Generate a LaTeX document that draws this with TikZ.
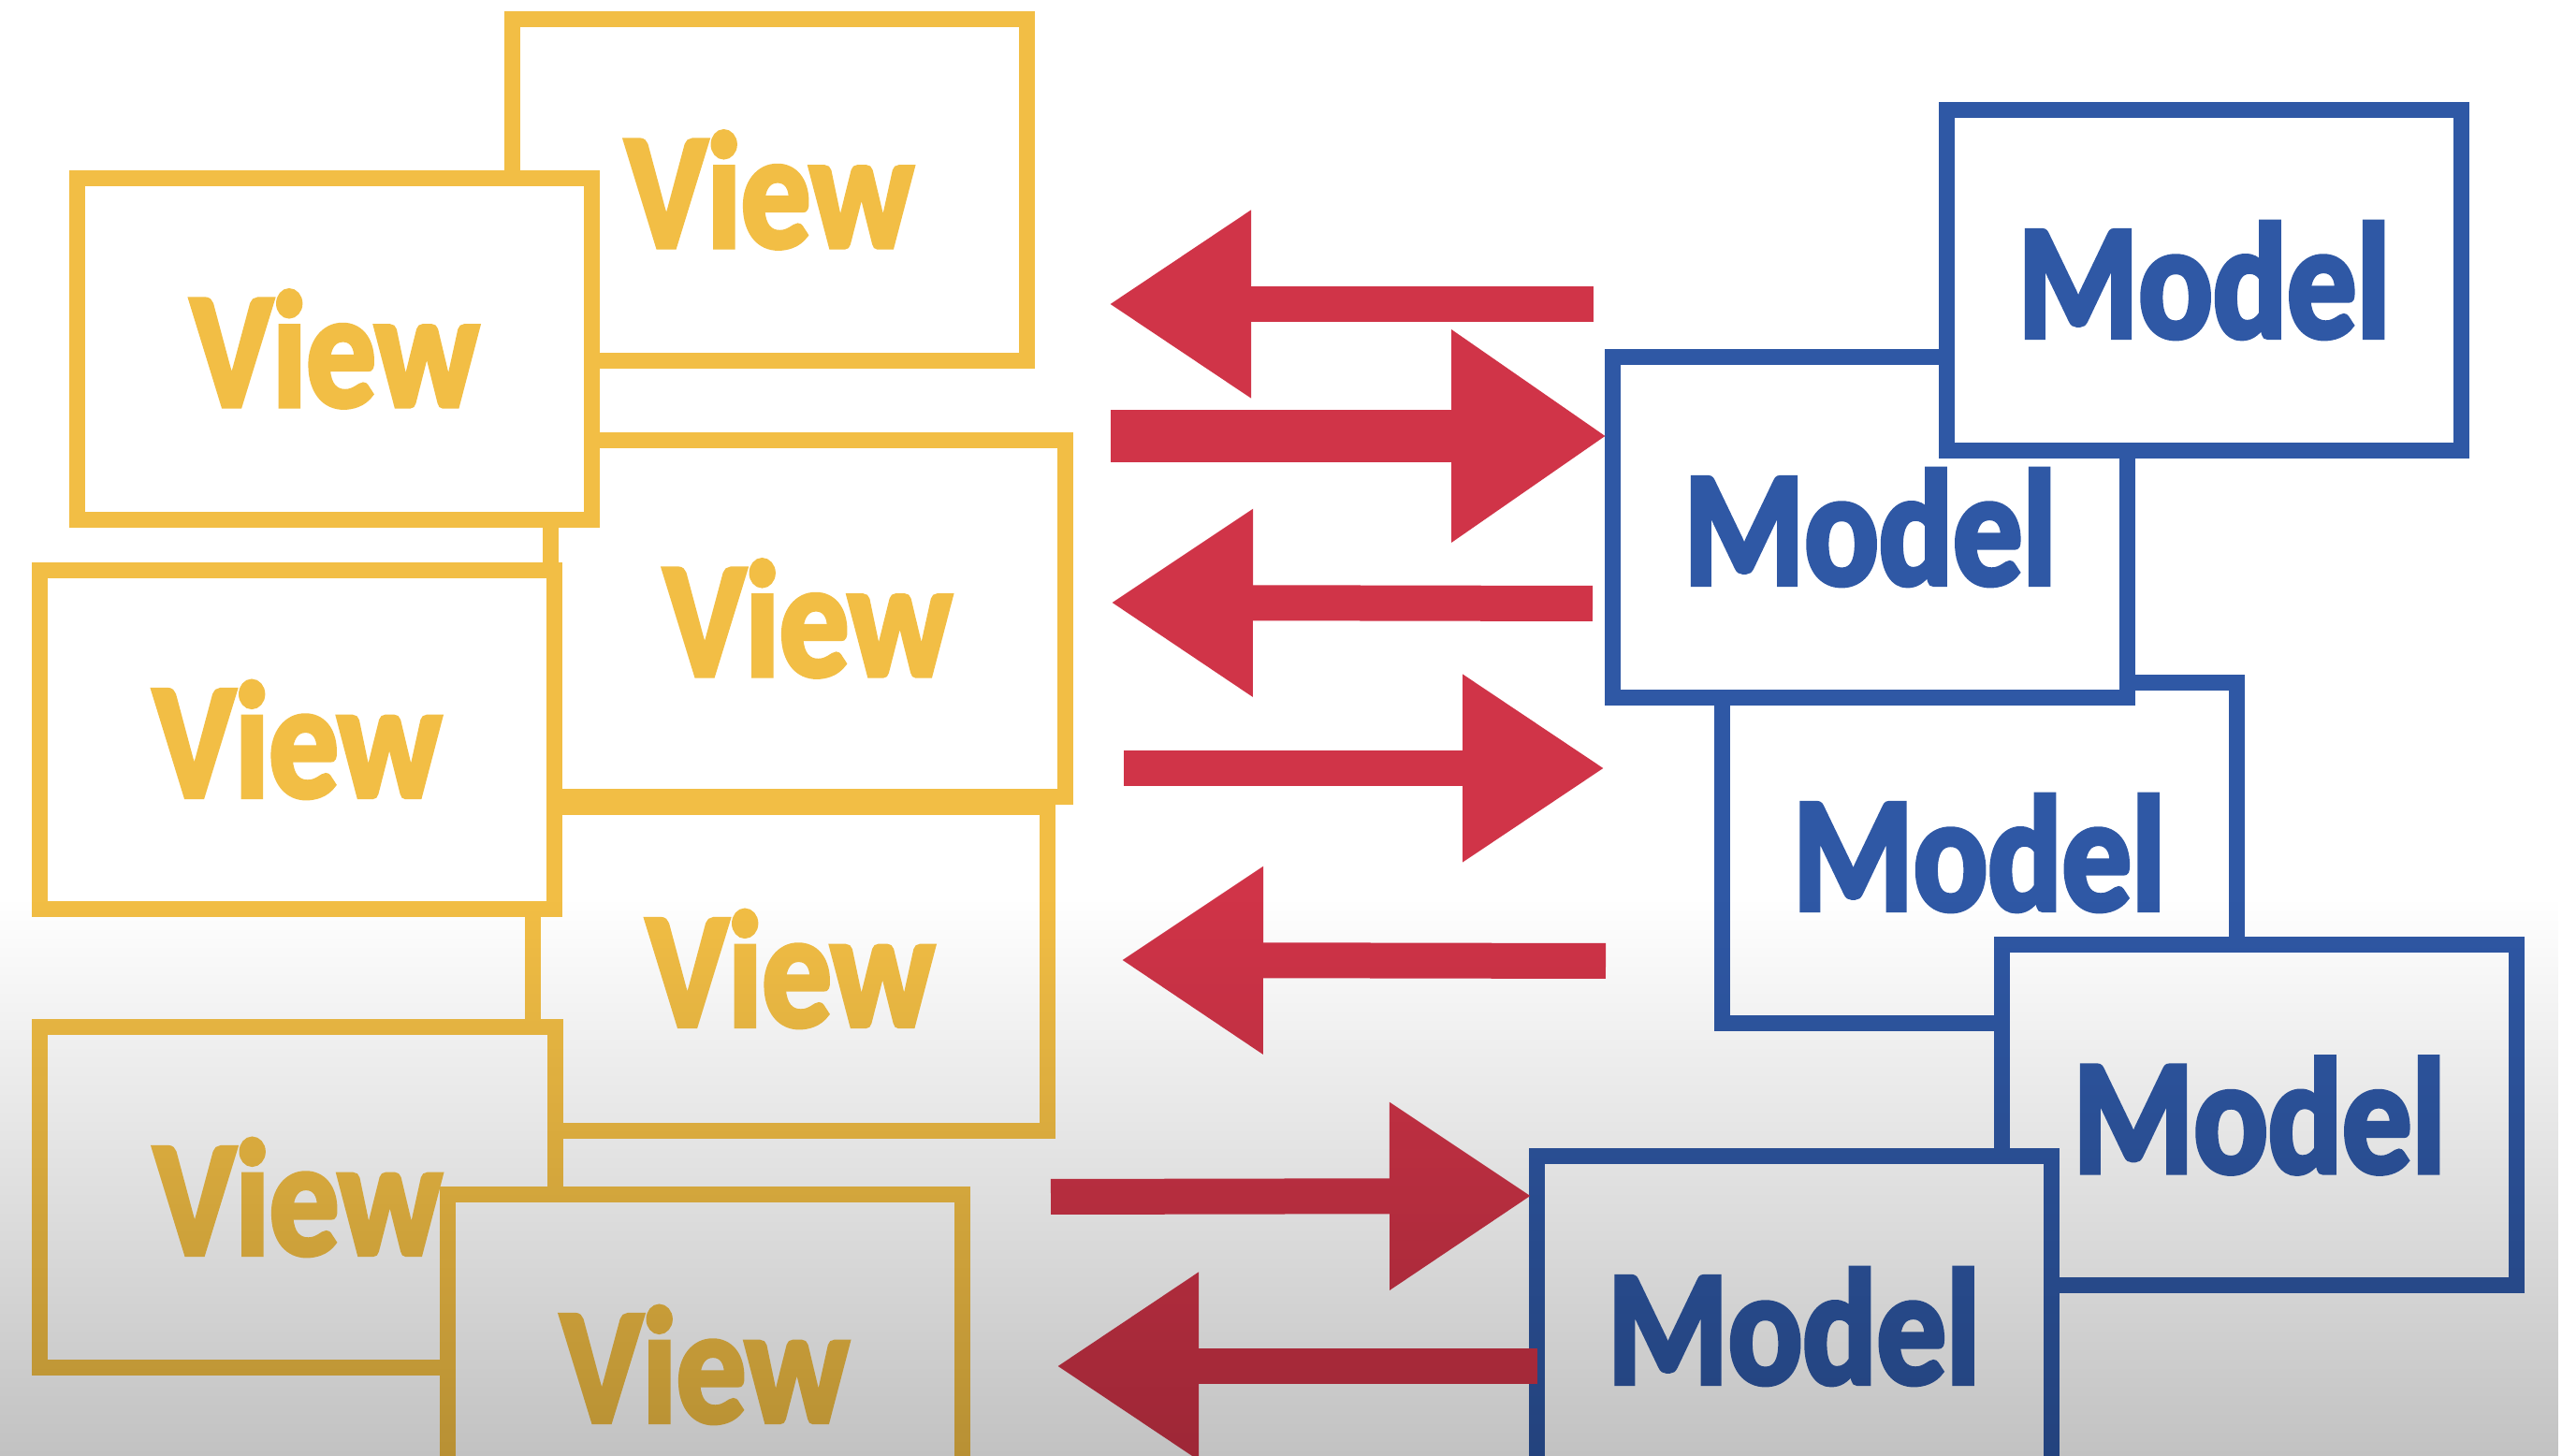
\documentclass[tikz,border=0pt]{standalone}
\usepackage{fontspec}
\usepackage{xcolor}
\usetikzlibrary{arrows.meta}
\usetikzlibrary{fadings}
\newfontfamily\mvcfont[FakeStretch=0.84, FakeBold=3]{Carlito}
\definecolor{viewyellow}{RGB}{242,190,69}
\definecolor{modelblue}{RGB}{47,88,165}
\definecolor{arrowred}{RGB}{208,52,72}
\tikzfading[name=fade down, top color=transparent!100, bottom color=transparent!76]

\begin{document}
\begin{tikzpicture}[
    viewbox/.style={draw=viewyellow, fill=white, line width=\figmvclinewidth,
        minimum width=\figmvcboxwidth, minimum height=\figmvcboxheight, inner sep=0pt,
        text=viewyellow, font=\mvcfont\bfseries\fontsize{50}{55}\selectfont},
    modelbox/.style={viewbox, draw=modelblue, text=modelblue},
    chalkarrow/.style={draw=arrowred, line width=\figmvcshaftwidth,
        -{Triangle[length=\figmvcheadlength, width=\figmvcheadwidth]}},
    bigchalkarrow/.style={draw=arrowred, line width=0.56cm,
        -{Triangle[length=1.66cm, width=2.16cm]}}
]
        \newcommand{\figmvcboxwidth}{5.5cm}
        \newcommand{\figmvcboxheight}{3.64cm}
        \newcommand{\figmvclinewidth}{0.17cm}
        \newcommand{\figmvcshaftwidth}{0.38cm}
        \newcommand{\figmvcheadlength}{1.52cm}
        \newcommand{\figmvcheadwidth}{1.9cm}
        \newcommand{\figmvcpagewidth}{27.38}
        \newcommand{\figmvcpageheight}{15.56}
        \useasboundingbox (0,0) rectangle (\figmvcpagewidth,\figmvcpageheight);
        \fill[white] (0,0) rectangle (\figmvcpagewidth,\figmvcpageheight);
        % views, back to front
        \node[viewbox, minimum height=3.65cm] (viewa) at (8.22,13.53) {View};
        \node[viewbox, minimum height=3.46cm] (viewe) at (8.445,5.205) {View};
        \node[viewbox, minimum height=3.81cm] (viewc) at (8.63,8.95) {View};
        \node[viewbox, minimum height=3.65cm] (viewb) at (3.575,11.83) {View};
        \node[viewbox, minimum height=3.62cm] (viewd) at (3.175,7.655) {View};
        \node[viewbox] (viewf) at (3.18,2.765) {View};
        \node[viewbox] (viewg) at (7.53,0.975) {View};
        % models, back to front
        \node[modelbox] (modelc) at (21.15,6.445) {Model};
        \node[modelbox] (modelb) at (19.985,9.925) {Model};
        \node[modelbox] (modela) at (23.555,12.565) {Model};
        \node[modelbox] (modeld) at (24.145,3.64) {Model};
        \node[modelbox] (modele) at (19.17,1.385) {Model};
        % arrows
        \coordinate (arrowastart) at (17.03,12.31);
        \coordinate (arrowaend) at (11.85,12.31);
        \coordinate (arrowbstart) at (11.87,10.90);
        \coordinate (arrowbend) at (17.17,10.90);
        \coordinate (arrowcstart) at (17.02,9.11);
        \coordinate (arrowcend) at (11.87,9.12);
        \coordinate (arrowdstart) at (12.01,7.35);
        \coordinate (arrowdend) at (17.15,7.35);
        \coordinate (arrowestart) at (17.16,5.29);
        \coordinate (arroweend) at (11.98,5.30);
        \coordinate (arrowfstart) at (11.23,2.77);
        \coordinate (arrowfend) at (16.37,2.78);
        \coordinate (arrowgstart) at (16.43,0.96);
        \coordinate (arrowgend) at (11.29,0.96);
        \draw[chalkarrow] (arrowastart) -- (arrowaend);
        \draw[bigchalkarrow] (arrowbstart) -- (arrowbend);
        \draw[chalkarrow] (arrowcstart) -- (arrowcend);
        \draw[chalkarrow] (arrowdstart) -- (arrowdend);
        \draw[chalkarrow] (arrowestart) -- (arroweend);
        \draw[chalkarrow] (arrowfstart) -- (arrowfend);
        \draw[chalkarrow] (arrowgstart) -- (arrowgend);
        % grey shade over the lower part
        \fill[black, path fading=fade down] (0,0) rectangle (\figmvcpagewidth,5.96);
    \end{tikzpicture}
\end{document}
